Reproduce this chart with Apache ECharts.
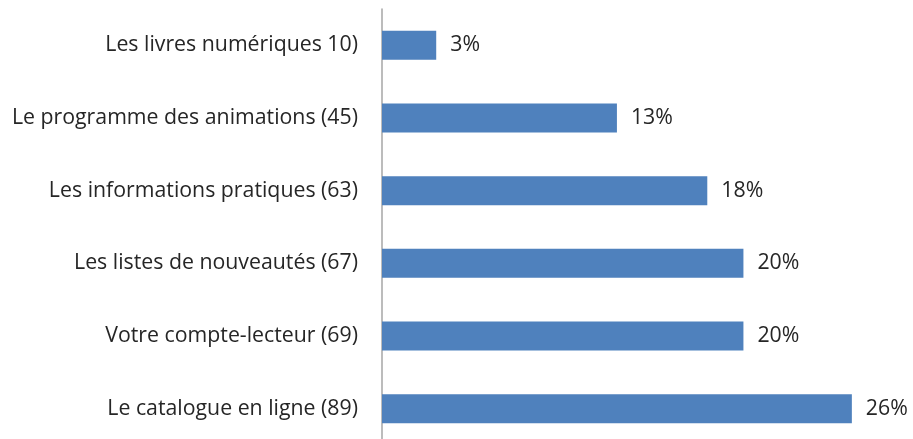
<!DOCTYPE html>
<html>
<head>
<meta charset="utf-8">
<script src="https://cdn.jsdelivr.net/npm/echarts@6/dist/echarts.min.js"></script>
<style>
  html, body { margin: 0; padding: 0; background: #fff; }
  #chart { width: 913px; height: 439px; }
</style>
</head>
<body>
<div id="chart"></div>
<script>
// catégories du haut vers le bas
const categories = [
  'Les livres numériques 10)',
  'Le programme des animations (45)',
  'Les informations pratiques (63)',
  'Les listes de nouveautés (67)',
  'Votre compte-lecteur (69)',
  'Le catalogue en ligne (89)'
]
const percents = [3, 13, 18, 20, 20, 26]

const chart = echarts.init(document.getElementById('chart'))
chart.setOption({
  animation: false,
  textStyle: { fontFamily: 'Open Sans' },
  grid: {
    left: 382,
    top: 9,
    width: 506,
    height: 436,
    outerBoundsMode: 'none'
  },
  xAxis: {
    type: 'value',
    min: 0,
    max: 28,
    show: false
  },
  yAxis: {
    type: 'category',
    data: categories,
    inverse: true,
    axisLine: { lineStyle: { color: '#a6a6a6', width: 1.5 } },
    axisTick: { show: false },
    axisLabel: { color: '#262626', fontSize: 21.3, margin: 24 }
  },
  series: [
    {
      type: 'bar',
      data: percents,
      barWidth: 29,
      itemStyle: { color: '#4f81bd' },
      label: {
        show: true,
        position: 'right',
        distance: 14,
        color: '#262626',
        fontSize: 21.3,
        formatter: '{c}%'
      }
    }
  ]
})
</script>
</body>
</html>
